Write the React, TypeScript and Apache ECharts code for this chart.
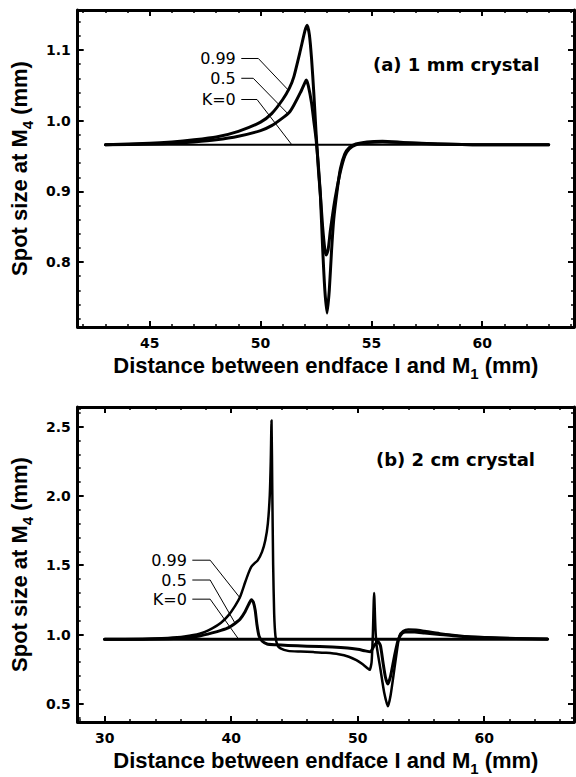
import React, { useEffect, useRef } from "react";
import * as echarts from "echarts";

// ---------- data: panel (a) 1 mm crystal ----------
const aK0: [number, number][] = [[43, 0.966], [63, 0.966]];
const aK05: [number, number][] = [
  [43, 0.966], [45, 0.967], [46, 0.968], [47, 0.970], [48, 0.973], [49, 0.978], [50, 0.986],
  [50.5, 0.993], [51, 1.004], [51.3, 1.012], [51.5, 1.022], [51.8, 1.040], [52.0, 1.054],
  [52.06, 1.0575], [52.15, 1.050], [52.3, 1.025], [52.4, 1.0], [52.5, 0.975], [52.6, 0.940],
  [52.7, 0.895], [52.8, 0.850], [52.9, 0.818], [52.96, 0.810], [53.05, 0.818], [53.15, 0.845],
  [53.3, 0.878], [53.45, 0.905], [53.6, 0.928], [53.8, 0.950], [54.0, 0.960], [54.3, 0.966],
  [54.8, 0.969], [55.5, 0.970], [56.5, 0.969], [58, 0.967], [60, 0.966], [63, 0.966],
];
const aK099: [number, number][] = [
  [43, 0.966], [45, 0.968], [46, 0.970], [47, 0.973], [48, 0.977], [49, 0.985], [50, 0.998],
  [50.5, 1.010], [51, 1.030], [51.3, 1.046], [51.5, 1.062], [51.8, 1.100], [52.0, 1.127],
  [52.1, 1.135], [52.2, 1.122], [52.3, 1.088], [52.4, 1.040], [52.5, 0.985], [52.6, 0.935],
  [52.7, 0.893], [52.8, 0.820], [52.9, 0.760], [53.0, 0.728], [53.1, 0.760], [53.2, 0.815],
  [53.3, 0.860], [53.45, 0.900], [53.6, 0.932], [53.8, 0.953], [54.0, 0.962], [54.3, 0.967],
  [54.8, 0.970], [55.5, 0.971], [56.5, 0.969], [58, 0.967], [60, 0.966], [63, 0.966],
];
const aLead099: [number, number][] = [[49.13, 1.088], [49.9, 1.088], [51.26, 1.043]];
const aLead05: [number, number][] = [[49.13, 1.060], [49.67, 1.060], [51.26, 1.009]];
const aLeadK0: [number, number][] = [[49.13, 1.030], [49.84, 1.030], [51.41, 0.966]];

const xTicksA = [45, 50, 55, 60];
const xMinorA = [42, 43, 44, 46, 47, 48, 49, 51, 52, 53, 54, 56, 57, 58, 59, 61, 62, 63, 64];
const yTicksA = [0.8, 0.9, 1.0, 1.1];
const yMinorA = [0.72, 0.74, 0.76, 0.78, 0.82, 0.84, 0.86, 0.88, 0.92, 0.94, 0.96, 0.98, 1.02, 1.04, 1.06, 1.08, 1.12, 1.14];

// ---------- data: panel (b) 2 cm crystal ----------
const bK0: [number, number][] = [[30, 0.965], [65, 0.965]];
const bK05: [number, number][] = [
  [30, 0.965], [33, 0.966], [35, 0.970], [36.3, 0.975], [37.5, 0.990], [38.5, 1.012], [39.2, 1.030],
  [39.8, 1.050], [40.3, 1.080], [40.7, 1.110], [41.1, 1.165], [41.4, 1.220], [41.6, 1.250],
  [41.75, 1.235], [41.9, 1.175], [42.04, 1.070], [42.2, 0.990], [42.44, 0.953], [42.84, 0.932],
  [43.5, 0.926], [44.5, 0.921], [46, 0.916], [48, 0.910], [49.2, 0.903], [50.0, 0.893],
  [50.6, 0.882], [51.0, 0.875], [51.3, 0.920], [51.6, 0.950], [51.8, 0.920], [52.0, 0.800],
  [52.2, 0.690], [52.39, 0.643], [52.6, 0.700], [52.9, 0.840], [53.2, 0.960], [53.5, 1.008],
  [53.8, 1.018], [54.5, 1.018], [55.3, 1.010], [56.5, 1.000], [58, 0.988], [60, 0.978],
  [62.5, 0.971], [65, 0.967],
];
const bK099: [number, number][] = [
  [30, 0.965], [33, 0.968], [35, 0.975], [36.3, 0.985], [37.5, 1.005], [38.5, 1.045], [39.2, 1.085],
  [39.8, 1.140], [40.3, 1.205], [40.7, 1.270], [41.1, 1.375], [41.4, 1.450], [41.6, 1.489],
  [41.8, 1.510], [42.1, 1.535], [42.44, 1.596], [42.7, 1.680], [42.9, 1.800], [43.05, 2.000],
  [43.13, 2.250], [43.19, 2.543], [43.25, 2.050], [43.32, 1.500], [43.4, 1.150], [43.5, 0.990],
  [43.65, 0.925], [43.9, 0.900], [44.5, 0.882], [45.5, 0.877], [46.5, 0.873], [47.5, 0.868],
  [48.5, 0.858], [49.3, 0.840], [49.9, 0.815], [50.4, 0.785], [50.8, 0.755], [50.95, 0.745],
  [51.1, 0.800], [51.2, 1.000], [51.3, 1.300], [51.4, 1.050], [51.5, 0.920], [51.8, 0.750],
  [52.1, 0.580], [52.39, 0.482], [52.6, 0.560], [52.9, 0.750], [53.1, 0.880], [53.3, 0.990],
  [53.6, 1.025], [54.0, 1.036], [54.6, 1.035], [55.3, 1.025], [56.5, 1.008], [58, 0.992],
  [60, 0.980], [62.5, 0.972], [65, 0.967],
];
const bLead099: [number, number][] = [[36.93, 1.536], [38.34, 1.536], [40.72, 1.262]];
const bLead05: [number, number][] = [[36.93, 1.393], [38.34, 1.393], [40.3, 1.083]];
const bLeadK0: [number, number][] = [[36.93, 1.255], [38.34, 1.255], [40.6, 0.965]];

const xTicksB = [30, 40, 50, 60];
const xMinorB = [28, 32, 34, 36, 38, 42, 44, 46, 48, 52, 54, 56, 58, 62, 64, 66];
const yTicksB = [0.5, 1.0, 1.5, 2.0, 2.5];
const yMinorB = [0.4, 0.6, 0.7, 0.8, 0.9, 1.1, 1.2, 1.3, 1.4, 1.6, 1.7, 1.8, 1.9, 2.1, 2.2, 2.3, 2.4, 2.6];

const leaderLabels = ["0.99", "0.5", "K=0"];
const xTitle = "{t|Distance between endface I and M}{s|1}{t| (mm)}";
const yTitle = "{t|Spot size at M}{s|4}{t| (mm)}";

const TICK_FONT = "DejaVu Sans";
const TITLE_FONT = "Liberation Sans";

const nameRich = {
  t: { fontSize: 22, fontWeight: "bold", fontFamily: TITLE_FONT, color: "#000", lineHeight: 32 },
  s: { fontSize: 15, fontWeight: "bold", fontFamily: TITLE_FONT, color: "#000", lineHeight: 15, verticalAlign: "bottom" },
};

function axesFor(
  gi: number,
  xr: [number, number],
  yr: [number, number],
  xMaj: number[],
  xMin: number[],
  yMaj: number[],
  yMin: number[]
) {
  const frameLine = { show: true, onZero: false, lineStyle: { color: "#000", width: 3 } };
  const noLine = { show: false, onZero: false };
  const majTick = (vals: number[]) => ({
    show: true, inside: true, length: 6, customValues: vals, lineStyle: { color: "#000", width: 2 },
  });
  const minTick = (vals: number[]) => ({
    show: true, inside: true, length: 3, customValues: vals, lineStyle: { color: "#000", width: 1.5 },
  });
  const lab = {
    color: "#000", fontFamily: TICK_FONT, fontWeight: "bold", fontSize: 14,
  };
  const xb = { type: "value", gridIndex: gi, min: xr[0], max: xr[1], splitLine: { show: false } };
  const yb = { type: "value", gridIndex: gi, min: yr[0], max: yr[1], splitLine: { show: false } };
  const xAxes = [
    {
      ...xb, position: "bottom", axisLine: frameLine, axisTick: majTick(xMaj),
      axisLabel: { ...lab, customValues: xMaj, margin: 9 },
      name: xTitle, nameLocation: "middle", nameGap: 22, nameTextStyle: { rich: nameRich },
    },
    { ...xb, position: "bottom", axisLine: noLine, axisTick: minTick(xMin), axisLabel: { show: false } },
    { ...xb, position: "top", axisLine: frameLine, axisTick: majTick(xMaj), axisLabel: { show: false } },
    { ...xb, position: "top", axisLine: noLine, axisTick: minTick(xMin), axisLabel: { show: false } },
  ];
  const yAxes = [
    {
      ...yb, position: "left", axisLine: frameLine, axisTick: majTick(yMaj),
      axisLabel: { ...lab, customValues: yMaj, margin: 7, formatter: (v: number) => v.toFixed(1) },
      name: yTitle, nameLocation: "middle", nameGap: 42, nameTextStyle: { rich: nameRich },
    },
    { ...yb, position: "left", axisLine: noLine, axisTick: minTick(yMin), axisLabel: { show: false } },
    { ...yb, position: "right", axisLine: frameLine, axisTick: majTick(yMaj), axisLabel: { show: false } },
    { ...yb, position: "right", axisLine: noLine, axisTick: minTick(yMin), axisLabel: { show: false } },
  ];
  return { xAxes, yAxes };
}

function curve(data: [number, number][], axisIdx: number, width: number) {
  return {
    type: "line", xAxisIndex: axisIdx, yAxisIndex: axisIdx, data, symbol: "none",
    smooth: 0.2, lineStyle: { color: "#000", width, join: "round", cap: "round" },
    silent: true, z: 3,
  };
}

function leader(data: [number, number][], label: string, axisIdx: number) {
  return {
    type: "line", xAxisIndex: axisIdx, yAxisIndex: axisIdx, symbol: "circle", symbolSize: 1,
    showSymbol: true, itemStyle: { color: "rgba(0,0,0,0)" },
    lineStyle: { color: "#000", width: 1 }, silent: true, z: 2,
    label: { show: false },
    data: data.map((p, i) =>
      i === 0
        ? {
            value: p,
            label: {
              show: true, position: "left", distance: 5, formatter: label,
              color: "#000", fontFamily: TICK_FONT, fontSize: 16, fontWeight: "normal",
            },
          }
        : { value: p }
    ),
  };
}

export default function App() {
  const ref = useRef<HTMLDivElement>(null);
  useEffect(() => {
    document.body.style.margin = "0";
    if (!ref.current) return;
    const chart = echarts.init(ref.current, null, { renderer: "svg" });
    const a = axesFor(0, [41.75, 64.14], [0.7082, 1.1566], xTicksA, xMinorA, yTicksA, yMinorA);
    const b = axesFor(1, [27.87, 67.1], [0.369, 2.641], xTicksB, xMinorB, yTicksB, yMinorB);
    const option: any = {
      animation: false,
      backgroundColor: "#fff",
      grid: [
        { left: 77, top: 10, width: 497, height: 317 },
        { left: 77, top: 407, width: 497, height: 318 },
      ],
      xAxis: [...a.xAxes, ...b.xAxes],
      yAxis: [...a.yAxes, ...b.yAxes],
      graphic: [
        {
          type: "text", x: 373, y: 64,
          style: { text: "(a) 1 mm crystal", fill: "#000", font: `bold 18px '${TICK_FONT}'`, verticalAlign: "middle", align: "left" },
        },
        {
          type: "text", x: 376, y: 459,
          style: { text: "(b) 2 cm crystal", fill: "#000", font: `bold 18px '${TICK_FONT}'`, verticalAlign: "middle", align: "left" },
        },
      ],
      series: [
        leader(aLead099, leaderLabels[0], 0),
        leader(aLead05, leaderLabels[1], 0),
        leader(aLeadK0, leaderLabels[2], 0),
        curve(aK0, 0, 2),
        curve(aK05, 0, 3),
        curve(aK099, 0, 3),
        leader(bLead099, leaderLabels[0], 4),
        leader(bLead05, leaderLabels[1], 4),
        leader(bLeadK0, leaderLabels[2], 4),
        curve(bK0, 4, 3),
        curve(bK05, 4, 3),
        curve(bK099, 4, 2.5),
      ],
    };
    chart.setOption(option);
    return () => chart.dispose();
  }, []);
  return <div ref={ref} style={{ width: 576, height: 777 }} />;
}
